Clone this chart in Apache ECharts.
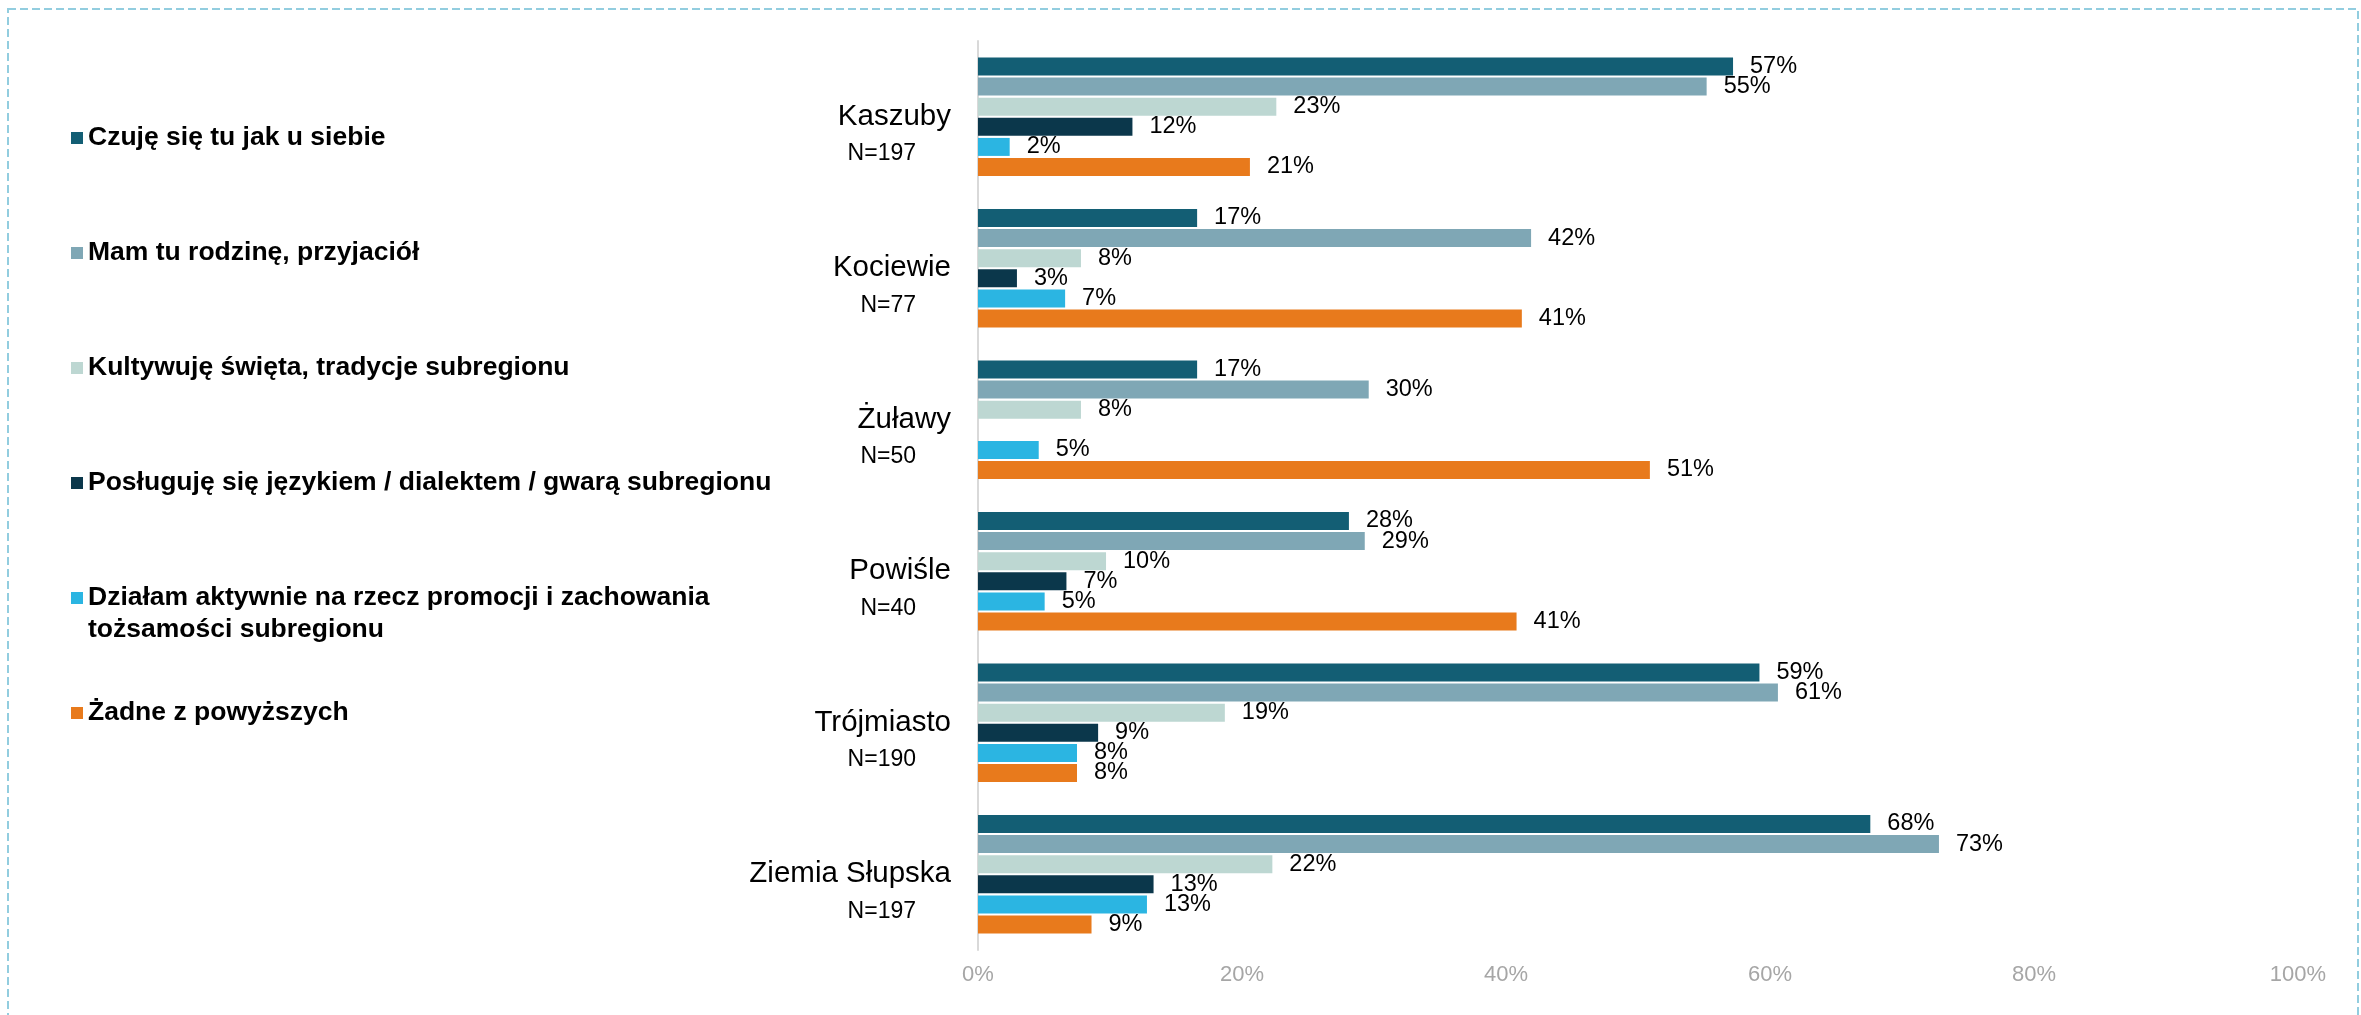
<!DOCTYPE html>
<html>
<head>
<meta charset="utf-8">
<script src="https://cdn.jsdelivr.net/npm/echarts@6/dist/echarts.min.js"></script>
<style>
html,body{margin:0;padding:0;background:#fff;}
#chart{width:2361px;height:1015px;}
</style>
</head>
<body>
<div id="chart"></div>
<script>
// ---- data ----
const categories = ['Kaszuby', 'Kociewie', 'Żuławy', 'Powiśle', 'Trójmiasto', 'Ziemia Słupska'];
const sampleSizes = ['N=197', 'N=77', 'N=50', 'N=40', 'N=190', 'N=197'];
const seriesNames = [
  'Czuję się tu jak u siebie',
  'Mam tu rodzinę, przyjaciół',
  'Kultywuję święta, tradycje subregionu',
  'Posługuję się językiem / dialektem / gwarą subregionu',
  'Działam aktywnie na rzecz promocji i zachowania\ntożsamości subregionu',
  'Żadne z powyższych'
];
const czujeSie    = [57.2, 16.6, 16.6, 28.1, 59.2, 67.6];
const mamRodzine  = [55.2, 41.9, 29.6, 29.3, 60.6, 72.8];
const kultywuje   = [22.6, 7.8, 7.8, 9.7, 18.7, 22.3];
const poslugujeSie= [11.7, 2.95, null, 6.7, 9.1, 13.3];
const dzialam     = [2.4, 6.6, 4.6, 5.05, 7.5, 12.8];
const zadne       = [20.6, 41.2, 50.9, 40.8, 7.5, 8.6];
const xTicks = [0, 20, 40, 60, 80, 100];

const seriesValues = [czujeSie, mamRodzine, kultywuje, poslugujeSie, dzialam, zadne];
const colors = ['#135E74', '#7FA7B5', '#BDD7D2', '#0B374B', '#2BB5E2', '#E87A1C'];

const FONT = '"Liberation Sans", Arial, sans-serif';

// legend: one component per item, positioned to match reference
const legendCenters = [138, 253, 368, 483, 598, 713];
const legends = seriesNames.map((name, i) => {
  const multi = name.indexOf('\n') >= 0;
  return {
    show: true,
    orient: 'vertical',
    left: 71,
    top: multi ? legendCenters[i] - 48 : legendCenters[i] - 16,
    padding: 0,
    itemWidth: 12,
    itemHeight: 12,
    icon: 'rect',
    selectedMode: false,
    data: [name],
    formatter: n => multi ? '\n' + n : n,
    textStyle: { fontFamily: FONT, fontSize: 26.5, fontWeight: 'bold', color: '#000', lineHeight: 32 }
  };
});

const chart = echarts.init(document.getElementById('chart'), null, { renderer: 'canvas' });
chart.setOption({
  backgroundColor: '#fff',
  animation: false,
  graphic: [{
    type: 'rect',
    silent: true,
    shape: { x: 8, y: 9, width: 2350, height: 1030 },
    style: { fill: 'none', stroke: '#92CDDF', lineWidth: 2, lineDash: [8, 4] }
  }],
  legend: legends,
  grid: { left: 978, right: 63, top: 41, bottom: 65, containLabel: false },
  xAxis: {
    type: 'value',
    min: xTicks[0],
    max: xTicks[xTicks.length - 1],
    interval: xTicks[1] - xTicks[0],
    axisLine: { show: false },
    axisTick: { show: false },
    splitLine: { show: false },
    axisLabel: { formatter: '{value}%', color: '#A6A6A6', fontSize: 22, fontFamily: FONT, margin: 14 }
  },
  yAxis: {
    type: 'category',
    inverse: true,
    data: categories,
    axisTick: { show: false },
    axisLine: { show: true, lineStyle: { color: '#D9D9D9', width: 2 } },
    axisLabel: {
      margin: 27,
      align: 'right',
      formatter: (v, i) => '{e| }\n{a|' + v + '}\n{b|' + sampleSizes[i] + '}',
      rich: {
        e: { fontSize: 23, lineHeight: 37, fontFamily: FONT },
        a: { fontSize: 29.5, lineHeight: 37, color: '#000', fontFamily: FONT, align: 'right' },
        b: { fontSize: 23, lineHeight: 37, color: '#000', fontFamily: FONT, align: 'right', padding: [0, 35, 0, 0] }
      }
    }
  },
  series: seriesValues.map((vals, i) => ({
    name: seriesNames[i],
    type: 'bar',
    data: vals,
    barWidth: 18,
    barGap: '11.7%',
    itemStyle: { color: colors[i] },
    label: {
      show: true,
      position: 'right',
      distance: 17,
      color: '#000',
      fontSize: 23.5,
      fontFamily: FONT,
      formatter: p => (p.value == null ? '' : Math.round(p.value) + '%')
    }
  }))
});
</script>
</body>
</html>
